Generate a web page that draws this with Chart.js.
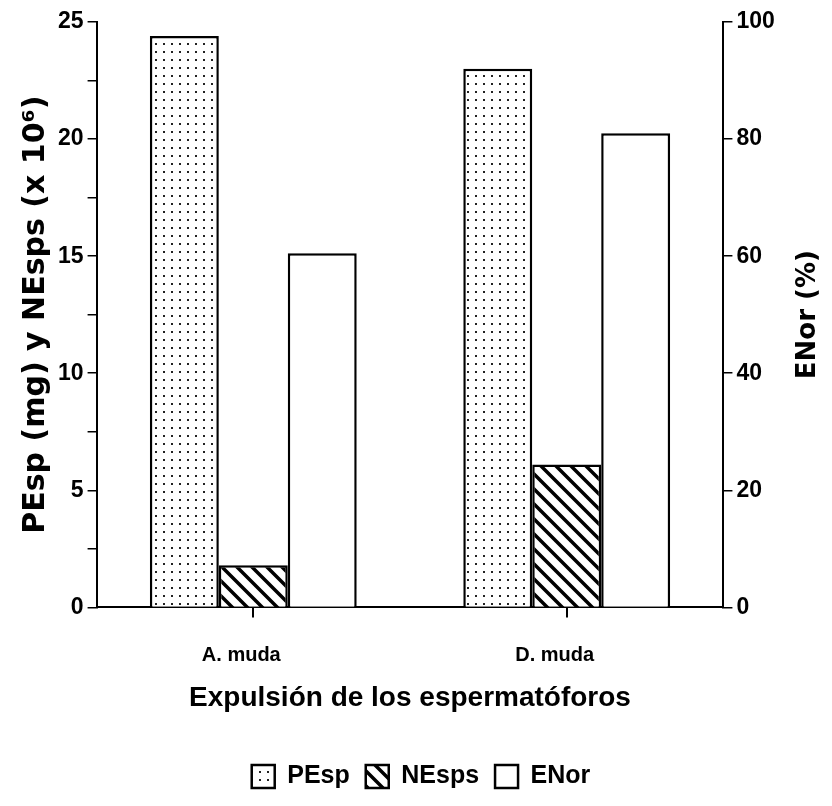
<!DOCTYPE html>
<html>
<head>
<meta charset="utf-8">
<script src="https://cdn.jsdelivr.net/npm/chart.js@4"></script>
<style>
  html, body { margin: 0; padding: 0; background: #fff; }
  #wrap { width: 832px; height: 806px; }
</style>
</head>
<body>
<div id="wrap"><canvas id="chart" width="832" height="806"></canvas></div>
<script>
// data
const categories = ['A. muda', 'D. muda'];
const pesp = [24.4, 23.0];   // mg, left axis
const nesps = [1.8, 6.1];    // x 10^6, left axis
const enor = [60.5, 81];     // %, right axis
const leftTicks = [0, 5, 10, 15, 20, 25];
const rightTicks = [0, 20, 40, 60, 80, 100];

const FONT = "'Liberation Sans', Arial, sans-serif";
const WIDE = "'DejaVu Sans', sans-serif";
const RIGHT_TITLE = 'ENor (%)';
const RT_SIZE = 26;
const RT_PAD_TOP = 4;

function dotPattern() {
    const c = document.createElement('canvas');
    c.width = 8; c.height = 8;
    const g = c.getContext('2d');
    g.fillStyle = '#fff';
    g.fillRect(0, 0, 8, 8);
    g.fillStyle = '#222';
    g.fillRect(3, 3, 2, 2);
    return g.createPattern(c, 'repeat');
}

function hatchPattern() {
    const s = 15;
    const c = document.createElement('canvas');
    c.width = s; c.height = s;
    const g = c.getContext('2d');
    g.fillStyle = '#fff';
    g.fillRect(0, 0, s, s);
    g.strokeStyle = '#000';
    g.lineWidth = 3.5;
    g.beginPath();
    g.moveTo(-2, -2); g.lineTo(s + 2, s + 2);
    g.moveTo(-3, s - 3); g.lineTo(3, s + 3);
    g.moveTo(s - 3, -3); g.lineTo(s + 3, 3);
    g.stroke();
    return g.createPattern(c, 'repeat');
}

// the right axis title reads upwards in the original, like the left one
const rightTitlePlugin = {
    id: 'rightTitle',
    afterDraw(chart) {
        const s = chart.scales.y1;
        const c = chart.ctx;
        const x = s.right - RT_PAD_TOP - RT_SIZE * 1.2 / 2;
        const y = (chart.chartArea.top + chart.chartArea.bottom) / 2;
        c.save();
        c.translate(x, y);
        c.rotate(-Math.PI / 2);
        c.font = 'bold ' + RT_SIZE + 'px ' + WIDE;
        c.fillStyle = '#000';
        c.textAlign = 'center';
        c.textBaseline = 'middle';
        c.fillText(RIGHT_TITLE, 0, 0);
        c.restore();
    }
};

const ctx = document.getElementById('chart');

new Chart(ctx, {
    type: 'bar',
    data: {
        labels: categories,
        datasets: [
            { label: 'PEsp', data: pesp, yAxisID: 'y', backgroundColor: dotPattern(), borderColor: '#000', borderWidth: 2.5 },
            { label: 'NEsps', data: nesps, yAxisID: 'y', backgroundColor: hatchPattern(), borderColor: '#000', borderWidth: 2.5 },
            { label: 'ENor', data: enor, yAxisID: 'y1', backgroundColor: '#fff', borderColor: '#000', borderWidth: 2.5 }
        ]
    },
    plugins: [rightTitlePlugin],
    options: {
        responsive: false,
        animation: false,
        layout: { padding: { left: 14, right: 4, top: 22, bottom: 7 } },
        datasets: { bar: { categoryPercentage: 0.66, barPercentage: 1.0, borderSkipped: 'bottom' } },
        plugins: {
            tooltip: { enabled: false },
            legend: {
                position: 'bottom',
                labels: {
                    color: '#000',
                    font: { family: FONT, size: 25, weight: 'bold' },
                    boxWidth: 23,
                    boxHeight: 23,
                    padding: 16
                }
            }
        },
        scales: {
            x: {
                offset: true,
                grid: { display: true, drawOnChartArea: false, offset: false, tickLength: 10, color: '#000', lineWidth: 2 },
                border: { display: true, color: '#000', width: 2 },
                ticks: { color: '#000', font: { family: FONT, size: 20, weight: 'bold' }, padding: 26, labelOffset: -12 },
                title: {
                    display: true,
                    text: 'Expulsión de los espermatóforos',
                    color: '#000',
                    font: { family: FONT, size: 28, weight: 'bold' },
                    padding: { top: -12, bottom: 33 }
                }
            },
            y: {
                position: 'left',
                min: 0,
                max: 25,
                afterBuildTicks: axis => { axis.ticks = [0, 2.5, 5, 7.5, 10, 12.5, 15, 17.5, 20, 22.5, 25].map(v => ({ value: v })); },
                grid: { drawOnChartArea: false, tickLength: 9, color: '#000', lineWidth: 1.5 },
                border: { display: true, color: '#000', width: 2 },
                ticks: {
                    color: '#000',
                    font: { family: FONT, size: 23, weight: 'bold' },
                    padding: 4,
                    callback: v => leftTicks.includes(v) ? String(v) : ''
                },
                title: {
                    display: true,
                    text: 'PEsp (mg) y NEsps (x 10\u2076)',
                    color: '#000',
                    font: { family: WIDE, size: 30, weight: 'bold' },
                    padding: { top: 4, bottom: 0 }
                }
            },
            y1: {
                position: 'right',
                min: 0,
                max: 100,
                afterBuildTicks: axis => { axis.ticks = rightTicks.map(v => ({ value: v })); },
                grid: { drawOnChartArea: false, tickLength: 9, color: '#000', lineWidth: 1.5 },
                border: { display: true, color: '#000', width: 2 },
                ticks: {
                    color: '#000',
                    font: { family: FONT, size: 23, weight: 'bold' },
                    padding: 4
                },
                title: {
                    // keeps the room; the text itself is drawn reading upwards by the plugin
                    display: true,
                    text: RIGHT_TITLE,
                    color: 'rgba(0,0,0,0)',
                    font: { family: WIDE, size: RT_SIZE, weight: 'bold' },
                    padding: { top: RT_PAD_TOP, bottom: 14 }
                }
            }
        }
    }
});
</script>
</body>
</html>
